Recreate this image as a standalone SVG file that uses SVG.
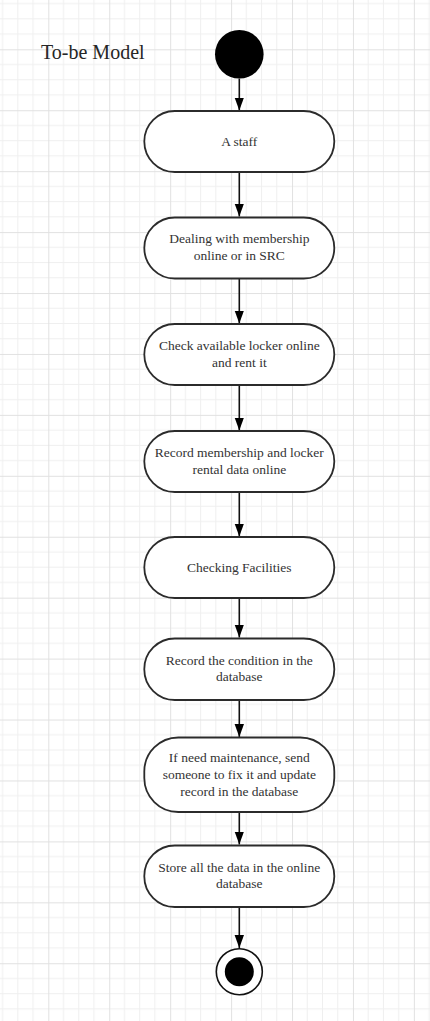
<svg xmlns="http://www.w3.org/2000/svg" width="430" height="1021" viewBox="0 0 430 1021">
  <style>
    .node { fill: #ffffff; stroke: #2b2b2b; stroke-width: 1.8; }
    .lbl { font-family: "Liberation Serif", "Times New Roman", serif; font-size: 13.5px; fill: #333333; text-anchor: middle; }
    .title { font-family: "Liberation Serif", "Times New Roman", serif; font-size: 20px; fill: #262626; }
    .conn { stroke: #111111; stroke-width: 1.6; fill: none; marker-end: url(#arr); }
  </style>
  <defs>
    <pattern id="grid" patternUnits="userSpaceOnUse" x="48.3" y="49.3" width="60.93" height="60.93">
      <path d="M15.23,0 V60.93 M30.46,0 V60.93 M45.7,0 V60.93 M0,15.23 H60.93 M0,30.46 H60.93 M0,45.7 H60.93" stroke="#efefef" stroke-width="1" fill="none"/>
      <path d="M0.5,0 V60.93 M0,0.5 H60.93" stroke="#e1e1e1" stroke-width="1" fill="none"/>
    </pattern>
    <marker id="arr" markerUnits="userSpaceOnUse" markerWidth="14" markerHeight="10" refX="13" refY="5" orient="auto">
      <path d="M0,0.3 L13,5 L0,9.7 z" fill="#000000"/>
    </marker>
  </defs>
  <rect x="0" y="0" width="430" height="1021" fill="#ffffff"/>
  <rect x="0" y="0" width="430" height="1021" fill="url(#grid)"/>

  <text class="title" x="41" y="59">To-be Model</text>

  <g id="connectors">
    <line class="conn" x1="239.3" y1="78.6" x2="239.3" y2="110.5"/>
    <line class="conn" x1="239.3" y1="172" x2="239.3" y2="216.5"/>
    <line class="conn" x1="239.3" y1="278.5" x2="239.3" y2="323.5"/>
    <line class="conn" x1="239.3" y1="385" x2="239.3" y2="430.5"/>
    <line class="conn" x1="239.3" y1="492" x2="239.3" y2="536.5"/>
    <line class="conn" x1="239.3" y1="598" x2="239.3" y2="637.5"/>
    <line class="conn" x1="239.3" y1="700" x2="239.3" y2="737"/>
    <line class="conn" x1="239.3" y1="812" x2="239.3" y2="844.5"/>
    <line class="conn" x1="239.3" y1="907" x2="239.3" y2="948"/>
  </g>

  <g id="start">
    <circle cx="239.3" cy="54.3" r="24.3" fill="#000000"/>
  </g>

  <g id="n1">
    <rect class="node" x="144.3" y="111" width="190" height="61" rx="30.5" ry="30.5"/>
    <text class="lbl" x="239.3" y="146">A staff</text>
  </g>
  <g id="n2">
    <rect class="node" x="144.3" y="217.5" width="190" height="61" rx="30.5" ry="30.5"/>
    <text class="lbl" x="239.3" y="243.2">Dealing with membership</text>
    <text class="lbl" x="239.3" y="259.9">online or in SRC</text>
  </g>
  <g id="n3">
    <rect class="node" x="144.3" y="324" width="190" height="61" rx="30.5" ry="30.5"/>
    <text class="lbl" x="239.3" y="350.3">Check available locker online</text>
    <text class="lbl" x="239.3" y="366.6">and rent it</text>
  </g>
  <g id="n4">
    <rect class="node" x="144.3" y="431" width="190" height="61" rx="30.5" ry="30.5"/>
    <text class="lbl" x="239.3" y="457">Record membership and locker</text>
    <text class="lbl" x="239.3" y="473.5">rental data online</text>
  </g>
  <g id="n5">
    <rect class="node" x="144.3" y="537" width="190" height="61" rx="30.5" ry="30.5"/>
    <text class="lbl" x="239.3" y="572">Checking Facilities</text>
  </g>
  <g id="n6">
    <rect class="node" x="144.3" y="638.5" width="190" height="61.5" rx="30.5" ry="30.5"/>
    <text class="lbl" x="239.3" y="664.5">Record the condition in the</text>
    <text class="lbl" x="239.3" y="681">database</text>
  </g>
  <g id="n7">
    <rect class="node" x="144.3" y="737.5" width="190" height="74.5" rx="34" ry="34"/>
    <text class="lbl" x="239.3" y="762.3">If need maintenance, send</text>
    <text class="lbl" x="239.3" y="779.4">someone to fix it and update</text>
    <text class="lbl" x="239.3" y="796.3">record in the database</text>
  </g>
  <g id="n8">
    <rect class="node" x="144.3" y="845.5" width="190" height="61.5" rx="30.5" ry="30.5"/>
    <text class="lbl" x="239.3" y="871.5">Store all the data in the online</text>
    <text class="lbl" x="239.3" y="888">database</text>
  </g>

  <g id="end">
    <circle cx="239.3" cy="971.7" r="23" fill="#ffffff" stroke="#111111" stroke-width="1.6"/>
    <circle cx="239.3" cy="971.7" r="14.5" fill="#000000"/>
  </g>
</svg>
